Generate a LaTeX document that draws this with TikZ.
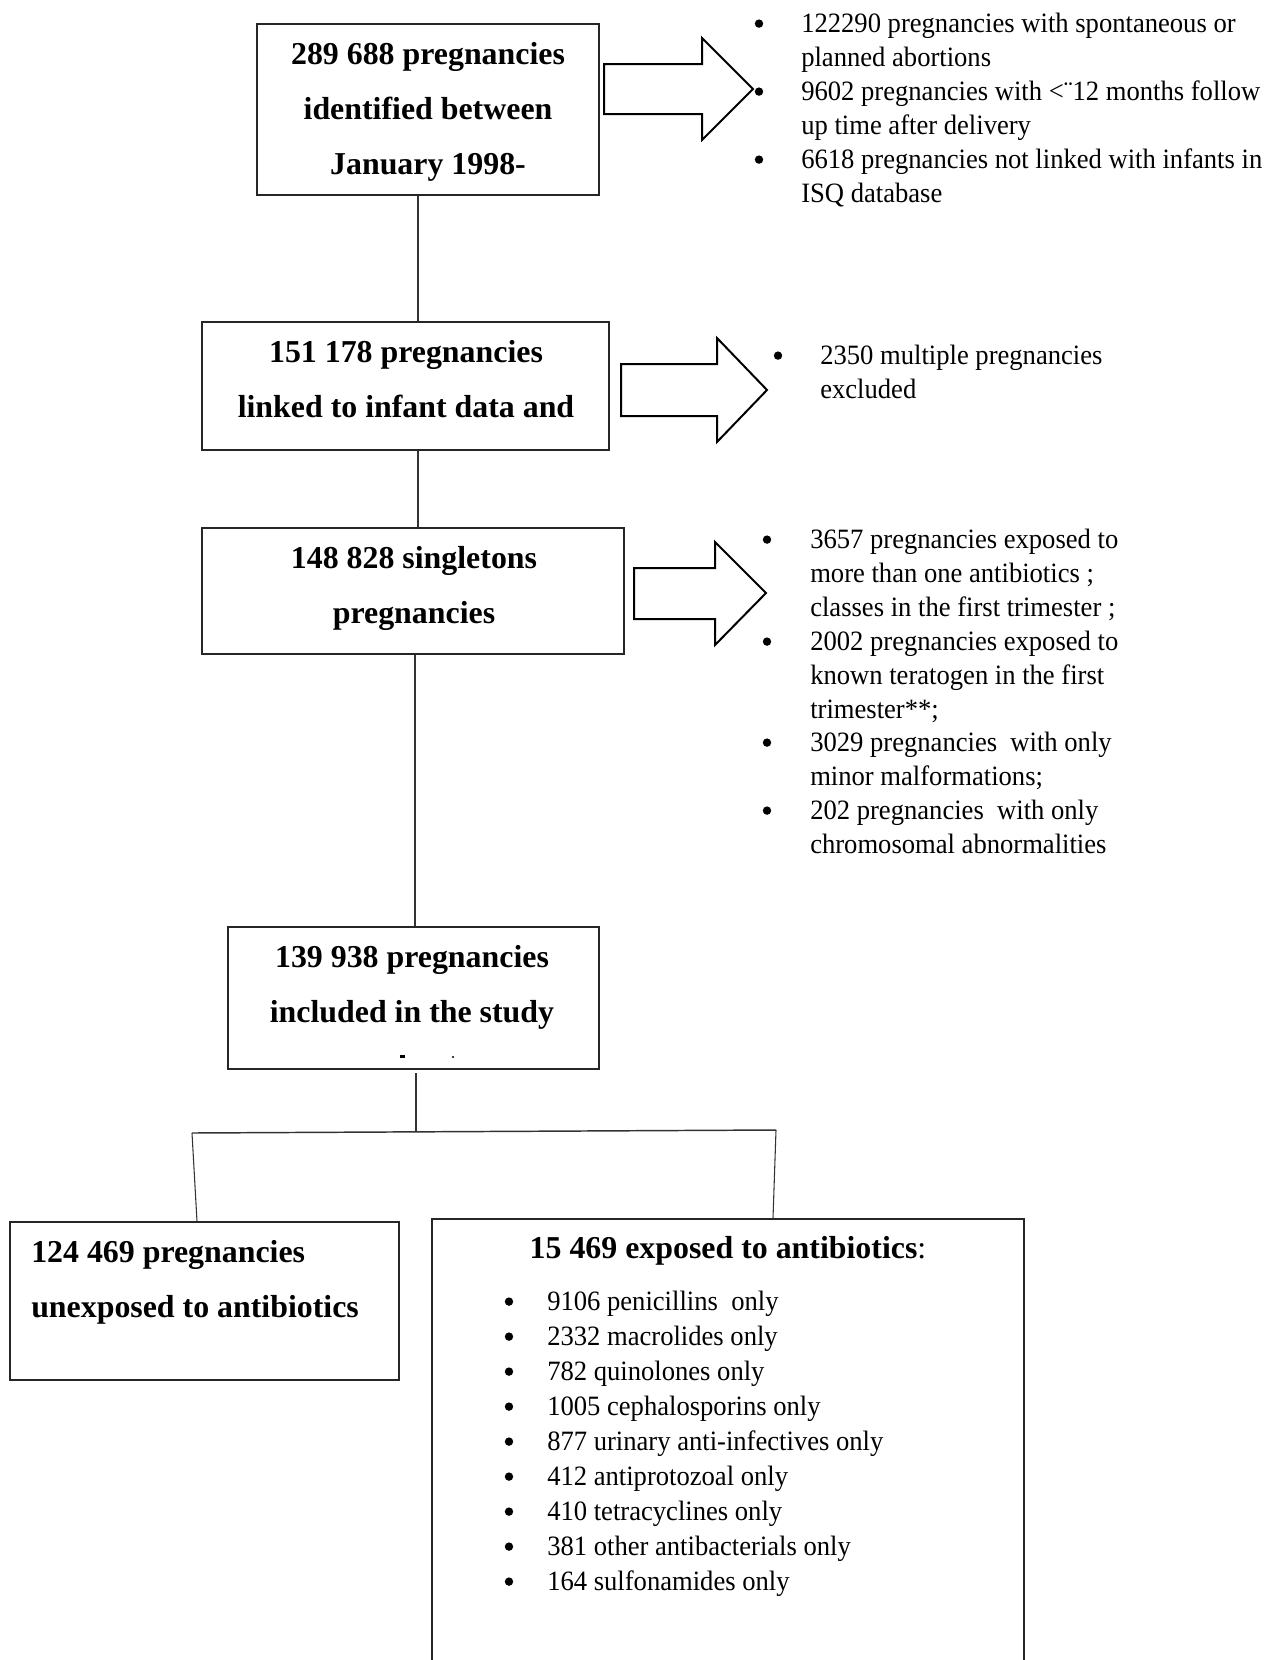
\documentclass[tikz,border=0pt]{standalone}
\usepackage{fontspec}
\setmainfont{Liberation Serif}
\newfontfamily\condfont[FakeStretch=0.95]{Liberation Serif}
\usetikzlibrary{fit}
\begin{document}
\begin{tikzpicture}[x=0.75pt,y=-0.75pt,
  boxnode/.style={draw=black!85, line width=1pt, inner sep=0pt},
  btxt/.style={inner sep=0pt, anchor=base, font=\fontsize{23.9}{28}\selectfont\bfseries},
  btxtl/.style={inner sep=0pt, anchor=base west, font=\fontsize{23.9}{28}\selectfont\bfseries},
  ltxt/.style={inner sep=0pt, anchor=base west, font=\condfont\fontsize{21}{25}\selectfont},
  bul/.style={circle, fill=black, inner sep=0pt, minimum size=6.3pt, yshift=6.3pt},
  conn/.style={draw=black!80, line width=0.8pt},
  blockarrow/.style={draw=black, line width=1.5pt, line join=miter, fill=white}
]
\useasboundingbox (0,0) rectangle (1267,1660);

% boxes
\node[boxnode, fit={(257,24) (599,195)}] (b1) {};
\node[boxnode, fit={(202,322) (609,450)}] (b2) {};
\node[boxnode, fit={(202,528) (624,654)}] (b3) {};
\node[boxnode, fit={(228,927) (599,1069)}] (b4) {};
\node[boxnode, fit={(10,1222) (399,1380)}] (b5) {};
\node[boxnode, fit={(432,1219) (1024,1668)}] (b6) {};

% box texts
\node[btxt] (t1a) at (428,64) {289 688 pregnancies};
\node[btxt] (t1b) at (428,119) {identified between};
\node[btxt] (t1c) at (428,174) {January 1998-};
\node[btxt] (t2a) at (406,362) {151 178 pregnancies};
\node[btxt] (t2b) at (406,417) {linked to infant data and};
\node[btxt] (t3a) at (414,568) {148 828 singletons};
\node[btxt] (t3b) at (414,623) {pregnancies};
\node[btxt] (t4a) at (412,967) {139 938 pregnancies};
\node[btxt] (t4b) at (412,1022) {included in the study};
\fill (400,1055) rectangle (405,1058);
\fill (453,1057) circle (1.2);
\node[btxtl] (t5a) at (31,1262) {124 469 pregnancies};
\node[btxtl] (t5b) at (31,1317) {unexposed to antibiotics};
\node[btxt] (t6h) at (728,1258) {15 469 exposed to antibiotics\mdseries:};

% block arrows
\draw[blockarrow] (604,64) -- (702,64) -- (702,38) -- (753,89) -- (702,140) -- (702,114) -- (604,114) -- cycle;
\draw[blockarrow] (621,364) -- (717,364) -- (717,338) -- (767,390) -- (717,442) -- (717,416) -- (621,416) -- cycle;
\draw[blockarrow] (634,568) -- (715,568) -- (715,542) -- (766,593) -- (715,645) -- (715,619) -- (634,619) -- cycle;

% list 1
\node[bul] (u1a) at (759,32) {};
\node[bul] (u1b) at (759,100) {};
\node[bul] (u1c) at (759,168) {};
\node[ltxt] (l1a) at (801,32) {122290 pregnancies with spontaneous or};
\node[ltxt] (l1b) at (801,66) {planned abortions};
\node[ltxt] (l1c) at (801,100) {9602 pregnancies with <¨12 months follow};
\node[ltxt] (l1d) at (801,134) {up time after delivery};
\node[ltxt] (l1e) at (801,168) {6618 pregnancies not linked with infants in};
\node[ltxt] (l1f) at (801,202) {ISQ database};

% list 2
\node[bul] (u2a) at (778,364) {};
\node[ltxt] (l2a) at (820,364) {2350 multiple pregnancies};
\node[ltxt] (l2b) at (820,398) {excluded};

% list 3
\node[bul] (u3a) at (767,548) {};
\node[bul] (u3b) at (767,650) {};
\node[bul] (u3c) at (767,751) {};
\node[bul] (u3d) at (767,819) {};
\node[ltxt] (l3a) at (810,548) {3657 pregnancies exposed to};
\node[ltxt] (l3b) at (810,582) {more than one antibiotics ;};
\node[ltxt] (l3c) at (810,616) {classes in the first trimester ;};
\node[ltxt] (l3d) at (810,650) {2002 pregnancies exposed to};
\node[ltxt] (l3e) at (810,684) {known teratogen in the first};
\node[ltxt] (l3f) at (810,718) {trimester**;};
\node[ltxt] (l3g) at (810,751) {3029 pregnancies\ \ with only};
\node[ltxt] (l3h) at (810,785) {minor malformations;};
\node[ltxt] (l3i) at (810,819) {202 pregnancies\ \ with only};
\node[ltxt] (l3j) at (810,853) {chromosomal abnormalities};

% list in box 6
\foreach \txt [count=\i from 0] in {9106 penicillins\ \ only, 2332 macrolides only, 782 quinolones only, 1005 cephalosporins only, 877 urinary anti-infectives only, 412 antiprotozoal only, 410 tetracyclines only, 381 other antibacterials only, 164 sulfonamides only}{
  \node[bul] (u6-\i) at (509,1310+35*\i) {};
  \node[ltxt] (l6-\i) at (547,1310+35*\i) {\txt};
}

% connectors
\coordinate (x1) at (418,0);
\coordinate (x2) at (415,0);
\draw[conn] (b1.south -| x1) -- (b2.north -| x1);
\draw[conn] (b2.south -| x1) -- (b3.north -| x1);
\draw[conn] (b3.south -| x2) -- (b4.north -| x2);
\coordinate (c4) at (416,1073);
\coordinate (jm) at (416,1132);
\coordinate (jl) at (192,1133);
\coordinate (jr) at (776,1130);
\coordinate (x5) at (197,0);
\coordinate (x6) at (773,0);
\draw[conn] (c4) -- (jm);
\draw[conn, line width=1.1pt] (jl) -- (jr);
\draw[conn] (jl) -- (b5.north -| x5);
\draw[conn] (jr) -- (b6.north -| x6);
\end{tikzpicture}
\end{document}
